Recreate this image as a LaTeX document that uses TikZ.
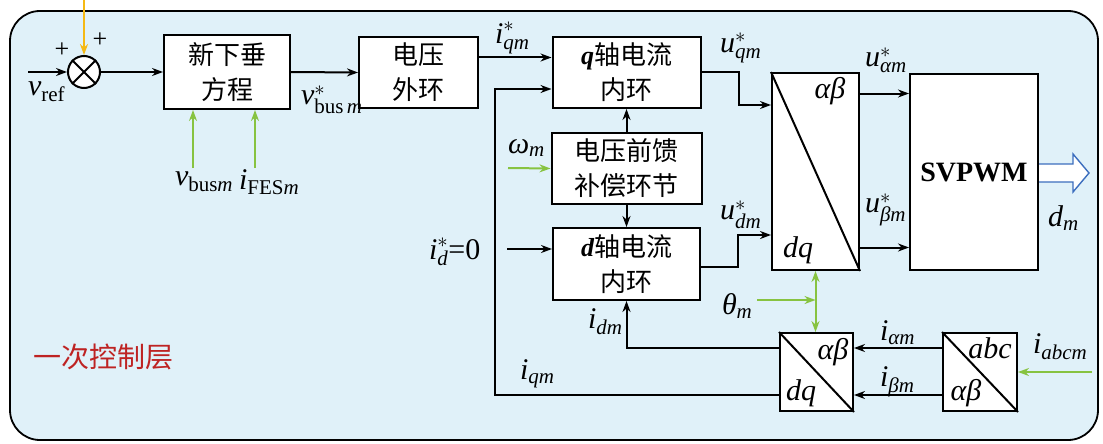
\documentclass[tikz,border=0pt]{standalone}
\usepackage{amsmath}
\usepackage{fontspec}
\setmainfont{Liberation Serif}
\newfontfamily\cjk{Noto Sans CJK SC}
\usetikzlibrary{arrows.meta}
\definecolor{bgblue}{RGB}{224,241,249}
\definecolor{gline}{RGB}{135,195,65}
\definecolor{oline}{RGB}{245,185,20}
\definecolor{redtxt}{RGB}{190,35,35}
\definecolor{outblue}{RGB}{60,110,190}
\newcommand{\ti}[1]{\textit{#1}}
\begin{document}
\begin{tikzpicture}[x=1pt,y=-1pt,line width=2pt,
  >={Stealth[length=11pt,width=8pt]},
  blk/.style={draw,fill=white,line width=2pt,inner sep=0pt,align=center,
    font=\cjk\fontsize{26}{35}\selectfont},
  tbox/.style={draw,fill=white,line width=2pt,inner sep=0pt},
  lab/.style={inner sep=0pt,font=\fontsize{30}{34}\selectfont},
  arr/.style={->},
  garr/.style={->,draw=gline},
  gdarr/.style={<->,draw=gline},
  oarr/.style={->,draw=oline}]
\useasboundingbox (0,0) rectangle (1103,444);
% background panel
\draw[fill=bgblue,line width=1.8pt,rounded corners=30pt] (10,11) rectangle (1098,440);

% sum
\node[draw,circle,fill=white,minimum size=32pt,inner sep=0pt,line width=2pt] (sum) at (84,72) {};
\draw (sum.north west) -- (sum.south east) (sum.north east) -- (sum.south west);
\coordinate (vin) at (28,72);
\coordinate (otop) at (84,0);
\draw[arr] (vin) -- (sum.west);
\draw[oarr] (otop) -- (sum.north);
\node[lab,font=\fontsize{26}{30}\selectfont] (plus1) at (62,50) {+};
\node[lab,font=\fontsize{26}{30}\selectfont] (plus2) at (100,40) {+};
\node[lab,anchor=west] (vref) at (27,92) {$\ti{v}_{\text{ref}}$};

% blocks
\node[blk,minimum width=126pt,minimum height=74pt] (b1) at (227,72) {新下垂\\方程};
\node[blk,minimum width=119pt,minimum height=71pt] (b2) at (418.5,72.5) {电压\\外环};
\node[blk,minimum width=148pt,minimum height=71pt] (qb) at (626.5,72.5) {{\rmfamily\bfseries\itshape q}轴电流\\内环};
\node[blk,minimum width=150pt,minimum height=71pt] (ff) at (626.5,168.5) {电压前馈\\补偿环节};
\node[blk,minimum width=147pt,minimum height=72pt] (db) at (626.5,264) {{\rmfamily\bfseries\itshape d}轴电流\\内环};
\node[tbox,minimum width=87pt,minimum height=197pt] (T) at (815.5,171.5) {};
\node[tbox,minimum width=128pt,minimum height=196pt,font=\bfseries\fontsize{28}{32}\selectfont] (sv) at (974,172) {SVPWM};
\node[tbox,minimum width=73pt,minimum height=78pt] (lowT) at (816.5,372) {};
\node[tbox,minimum width=74pt,minimum height=78pt] (abc) at (980,372) {};
\draw (T.north west) -- (T.south east);
\draw (lowT.north west) -- (lowT.south east);
\draw (abc.north west) -- (abc.south east);
\node[lab] (Tab) at (830,91) {\ti{αβ}};
\node[lab] (Tdq) at (798,250) {\ti{dq}};
\node[lab] (Lab) at (833,352) {\ti{αβ}};
\node[lab] (Ldq) at (801,393) {\ti{dq}};
\node[lab] (Aabc) at (990,348) {\ti{abc}};
\node[lab] (Aab) at (966,393) {\ti{αβ}};

% connectors
\draw[arr] (sum.east) -- (b1.west);
\coordinate (g1) at (193,168);
\coordinate (g2) at (255,168);
\draw[garr] (g1) -- (g1 |- b1.south);
\draw[garr] (g2) -- (g2 |- b1.south);
\node[lab,anchor=west] (vbus) at (174,182) {$\ti{v}_{\text{bus}\ti{m}}$};
\node[lab,anchor=west] (ifes) at (238,182) {$\ti{i}_{\text{FES}\ti{m}}$};
\draw[arr] (b1.east) -- (b2.west);
\node[lab,anchor=west] (vbusr) at (300,100) {$\ti{v}^{*}_{\text{bus}\,\ti{m}}$};
\draw[arr] ([yshift=15pt]b2.east) -- ([yshift=15pt]qb.west);
\node[lab,anchor=west] (iqr) at (494,38) {$\ti{i}^{*}_{\ti{qm}}$};

% feedback iqm
\coordinate (fbx) at (495,0);
\draw[arr] ([yshift=-23pt]lowT.west) -- ([yshift=-23pt]lowT.west -| fbx) |- ([yshift=-16.5pt]qb.west);
\node[lab,anchor=west] (iqm) at (519,374) {$\ti{i}_{\ti{qm}}$};

\draw[arr] (ff.north) -- (qb.south);
\draw[arr] (ff.south) -- (db.north);
\coordinate (om) at (508,168);
\draw[garr] (om) -- (ff.west);
\node[lab,anchor=west] (omega) at (507,148) {$\ti{ω}_{\ti{m}}$};

\coordinate (idz) at (507,249);
\draw[arr] (idz) -- ([yshift=15pt]db.west);
\node[lab,anchor=west] (idr) at (428,252) {$\ti{i}^{*}_{\ti{d}}$=0};

\draw[arr] ([yshift=24pt]lowT.west) -| (db.south);
\node[lab,anchor=west] (idm) at (587,322) {$\ti{i}_{\ti{dm}}$};

\draw[arr] (qb.east) -- ++(37,0) |- ([yshift=66.5pt]T.west);
\draw[arr] ([yshift=-3pt]db.east) -- ++(37,0) |- ([yshift=-63.5pt]T.west);
\node[lab,anchor=west] (uqr) at (719,48) {$\ti{u}^{*}_{\ti{qm}}$};
\node[lab,anchor=west] (udr) at (719,215) {$\ti{u}^{*}_{\ti{dm}}$};

\draw[arr] ([yshift=78pt]T.east) -- ([yshift=78pt]T.east -| sv.west);
\draw[arr] ([yshift=-76pt]T.east) -- ([yshift=-76pt]T.east -| sv.west);
\node[lab,anchor=west] (uar) at (864,60) {$\ti{u}^{*}_{\ti{αm}}$};
\node[lab,anchor=west] (ubr) at (864,210) {$\ti{u}^{*}_{\ti{βm}}$};

% hollow output arrow
\draw[draw=outblue,fill=white,line width=1.4pt,line join=miter]
  (sv.east |- 0,164) -- (1073,164) -- (1073,154) -- (1089,173) -- (1073,192) -- (1073,182) -- (sv.east |- 0,182);
\node[lab,anchor=west] (dm) at (1047,218) {$\ti{d}_{\ti{m}}$};

% theta
\coordinate (th) at (757,300);
\draw[garr] (th) -- (th -| T.south);
\draw[gdarr] (T.south) -- (T.south |- lowT.north);
\node[lab,anchor=west] (theta) at (721,306) {$\ti{θ}_{\ti{m}}$};

\draw[arr] ([yshift=24pt]abc.west) -- ([yshift=24pt]lowT.east);
\draw[arr] ([yshift=-23pt]abc.west) -- ([yshift=-23pt]lowT.east);
\node[lab,anchor=west] (ial) at (879,333) {$\ti{i}_{\ti{αm}}$};
\node[lab,anchor=west] (ibe) at (879,382) {$\ti{i}_{\ti{βm}}$};

\coordinate (iin) at (1092,372);
\draw[garr] (iin) -- (abc.east);
\node[lab,anchor=west] (iabc) at (1032,347) {$\ti{i}_{\ti{abcm}}$};

\node[inner sep=0pt,text=redtxt,font=\cjk\fontsize{28}{32}\selectfont] (layer) at (103,357) {一次控制层};
\end{tikzpicture}
\end{document}
